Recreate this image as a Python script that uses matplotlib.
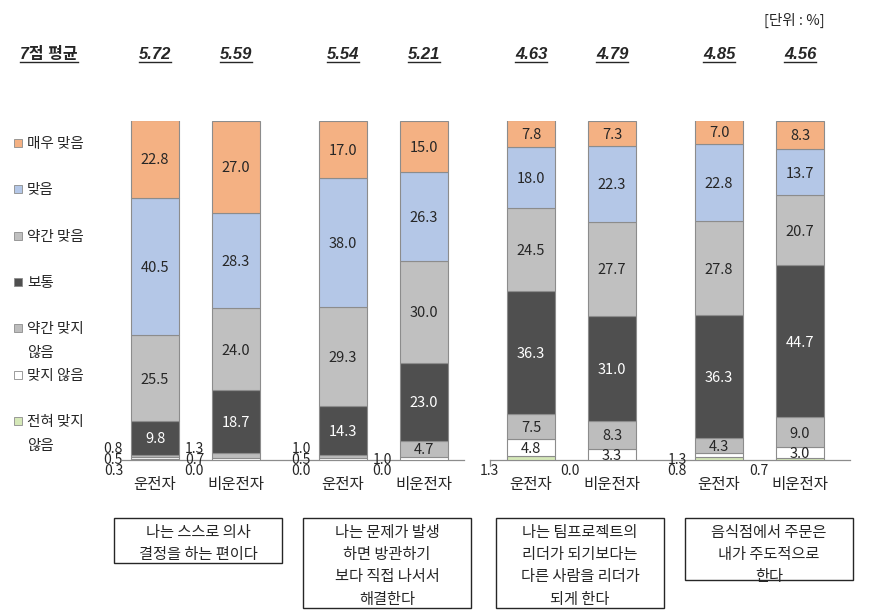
import matplotlib.pyplot as plt
from matplotlib.patches import Rectangle

plt.rcParams['font.family'] = ['Noto Sans CJK KR', 'DejaVu Sans']

# series from bottom to top of each bar
series = ['전혀 맞지\n않음', '맞지 않음', '약간 맞지\n않음', '보통', '약간 맞음', '맞음', '매우 맞음']
colors = ['#D5E8B8', '#FFFFFF', '#BDBDBD', '#4F4F4F', '#C0C0C0', '#B4C7E7', '#F4B183']

groups = ['운전자', '비운전자']
means = [5.72, 5.59, 5.54, 5.21, 4.63, 4.79, 4.85, 4.56]

# values per bar, order = series order
values = [
    [0.3, 0.5, 0.8, 9.8, 25.5, 40.5, 22.8],
    [0.0, 0.7, 1.3, 18.7, 24.0, 28.3, 27.0],
    [0.0, 0.5, 1.0, 14.3, 29.3, 38.0, 17.0],
    [0.0, 1.0, 4.7, 23.0, 30.0, 26.3, 15.0],
    [1.3, 4.8, 7.5, 36.3, 24.5, 18.0, 7.8],
    [0.0, 3.3, 8.3, 31.0, 27.7, 22.3, 7.3],
    [0.8, 1.3, 4.3, 36.3, 27.8, 22.8, 7.0],
    [0.7, 3.0, 9.0, 44.7, 20.7, 13.7, 8.3],
]

questions = [
    '나는 스스로 의사\n결정을 하는 편이다',
    '나는 문제가 발생\n하면 방관하기\n보다 직접 나서서\n해결한다',
    '나는 팀프로젝트의\n리더가 되기보다는\n다른 사람을 리더가\n되게 한다',
    '음식점에서 주문은\n내가 주도적으로\n한다',
]

W, H = 871, 613
fig = plt.figure(figsize=(W / 100, H / 100), dpi=100)

# bar axes: x in pixel units, y in percent
ax = fig.add_axes([0, 153 / H, 1, 339 / H])
ax.set_xlim(0, W)
ax.set_ylim(0, 100)
ax.axis('off')

# overlay axes for annotation, pixel coords, y downwards
ov = fig.add_axes([0, 0, 1, 1], zorder=-1)
ov.set_xlim(0, W)
ov.set_ylim(H, 0)
ov.axis('off')


def txt(x, y, s, size, **kw):
    # place text so that its visual middle sits at y
    return ov.text(x, y + 0.36 * size * 100 / 72, s, va='baseline', fontsize=size,
                   color=kw.pop('color', '#262626'), **kw)


bw = 48
centers = [155 + 188 * (i // 2) + 81 * (i % 2) for i in range(len(values))]

for b, vals in enumerate(values):
    bottom = 0
    for s, v in enumerate(vals):
        ax.bar(centers[b], v, bw, bottom=bottom, color=colors[s],
               edgecolor='#8C8C8C', linewidth=0.8)
        if v >= 2:
            ax.text(centers[b], bottom + v / 2, f'{v:.1f}', ha='center', va='center_baseline',
                    fontsize=10.5, color='white' if s == 3 else '#262626')
        elif s < 3:
            txt(centers[b] - bw / 2 - 8, [470, 459, 448][s], f'{v:.1f}', 10, ha='right')
        bottom += v
    txt(centers[b], 483, groups[b % 2], 11.2, ha='center')

# baseline segments
ov.plot([122, 464], [460, 460], color='#8C8C8C', lw=0.9)
ov.plot([490, 850], [460, 460], color='#8C8C8C', lw=0.9)
ov.plot([490, 490], [460, 466], color='#8C8C8C', lw=0.9)

# legend
leg_y = [143, 189, 236, 282, 328, 375, 421]
for k, s in enumerate(range(len(series) - 1, -1, -1)):
    ov.add_patch(Rectangle((14, leg_y[k] - 4), 8, 8, facecolor=colors[s],
                           edgecolor='#8C8C8C', linewidth=0.6))
    for j, ln in enumerate(series[s].split('\n')):
        txt(27, leg_y[k] + 24 * j, ln, 10.5, ha='left')

# question boxes
box_x = [198, 387, 580, 769]
for g, q in enumerate(questions):
    lines = q.split('\n')
    h = {2: 45, 3: 62, 4: 90}[len(lines)]
    ov.add_patch(Rectangle((box_x[g] - 84, 518), 168, h, facecolor='white',
                           edgecolor='#262626', linewidth=1.0))
    for j, ln in enumerate(lines):
        txt(box_x[g], 531 + 22.5 * j, ln, 11, ha='center')

# mean row
mfam = ['Liberation Sans Narrow', 'Liberation Sans', 'Noto Sans CJK KR', 'DejaVu Sans']
mtexts = [txt(49, 53, '7점 평균', 11.5, ha='center', fontweight='bold',
              style='italic', family=mfam)]
for b, m in enumerate(means):
    mtexts.append(txt(centers[b], 53, f'{m:.2f}', 12, ha='center', fontweight='bold',
                      style='italic', family=mfam))

txt(794, 20, '[단위 : %]', 10.5, ha='center')

fig.canvas.draw()
r = fig.canvas.get_renderer()
inv = ov.transData.inverted()
for t in mtexts:
    bb = t.get_window_extent(r)
    (x0, y0), (x1, y1) = inv.transform([[bb.x0, bb.y0], [bb.x1, bb.y1]])
    ov.plot([x0, x1], [62, 62], color='#262626', lw=1.0)

fig.savefig('out.png', dpi=100)
